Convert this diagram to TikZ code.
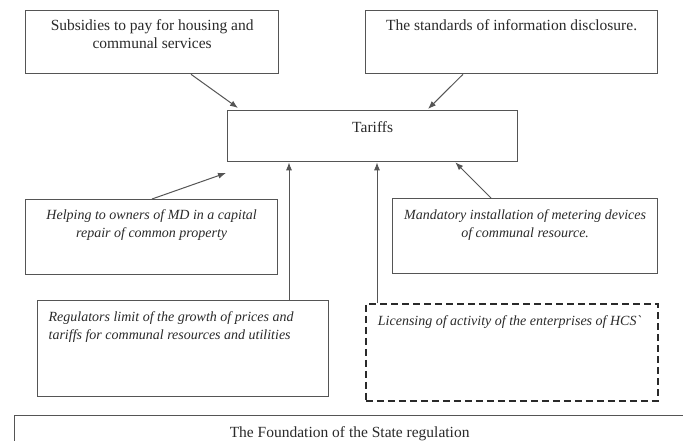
\documentclass[tikz,border=0pt]{standalone}
\usepackage{fontspec}
\setmainfont{Liberation Serif}
\usetikzlibrary{arrows.meta}
\definecolor{boxgray}{HTML}{555555}
\definecolor{txtgray}{HTML}{2A2A2A}
\newcommand{\boxc}[4]{\parbox[t][#2][t]{#1}{\centering\rule{0pt}{#3}#4\par}}
\newcommand{\boxl}[5]{\parbox[t][#2][t]{#1}{\raggedright\leftskip=#4\rule{0pt}{#3}#5\par}}
\tikzset{
  frame/.style={draw=boxgray, line width=1.3pt, inner sep=0pt, anchor=north west, text=txtgray, font=\fontsize{15.5}{18}\selectfont},
  iframe/.style={frame, font=\fontsize{14}{17.5}\selectfont\itshape},
  dframe/.style={iframe, draw=txtgray, line width=1.8pt, dash pattern=on 7pt off 4pt},
  arr/.style={draw=boxgray, line width=1pt, -{Latex[length=8pt,width=6pt]}}
}
\begin{document}
\begin{tikzpicture}[x=1pt,y=-1pt]
\useasboundingbox (0,0) rectangle (683,440);
\clip (0,0) rectangle (683,440);
\fill[white] (0,0) rectangle (683,440);

\node[frame] (subs) at (25,10) {\boxc{253pt}{63pt}{20pt}{Subsidies to pay for housing and\\ communal services}};
\node[frame] (std) at (365,10) {\boxc{292pt}{63pt}{20pt}{The standards of information disclosure.}};
\node[frame] (tar) at (227,110) {\boxc{290pt}{51pt}{22pt}{Tariffs}};
\node[iframe] (help) at (25,199) {\boxc{252pt}{75pt}{20pt}{Helping to owners of MD in a capital\\ repair of common property}};
\node[iframe] (mand) at (392,198) {\boxc{265pt}{75pt}{21pt}{Mandatory installation of metering devices\\ of communal resource.}};
\node[iframe] (reg) at (37,300) {\boxl{291pt}{96pt}{21pt}{11pt}{Regulators limit of the growth of prices and\\ tariffs for communal resources and utilities}};
\node[dframe] (lic) at (365,303) {\boxl{292pt}{97pt}{22pt}{12pt}{Licensing of activity of the enterprises of HCS\textasciigrave}};
\node[frame] (found) at (14,415) {\boxc{700pt}{40pt}{22pt}{\hspace*{-30pt}The Foundation of the State regulation}};

\coordinate (e1) at (238,108);
\coordinate (e2) at (428,109);
\coordinate (e3) at (226,173);

\draw[arr] ([xshift=166pt]subs.south west) -- (e1);
\draw[arr] ([xshift=98pt]std.south west) -- (e2);
\draw[arr] ([xshift=127pt]help.north west) -- (e3);
\draw[arr] ([xshift=252pt]reg.north west) -- ([xshift=252pt]reg.north west |- tar.south);
\draw[arr] ([xshift=12pt]lic.north west) -- ([xshift=12pt]lic.north west |- tar.south);
\draw[arr] ([xshift=99pt]mand.north west) -- ([xshift=-63pt]tar.south east);
\end{tikzpicture}
\end{document}
